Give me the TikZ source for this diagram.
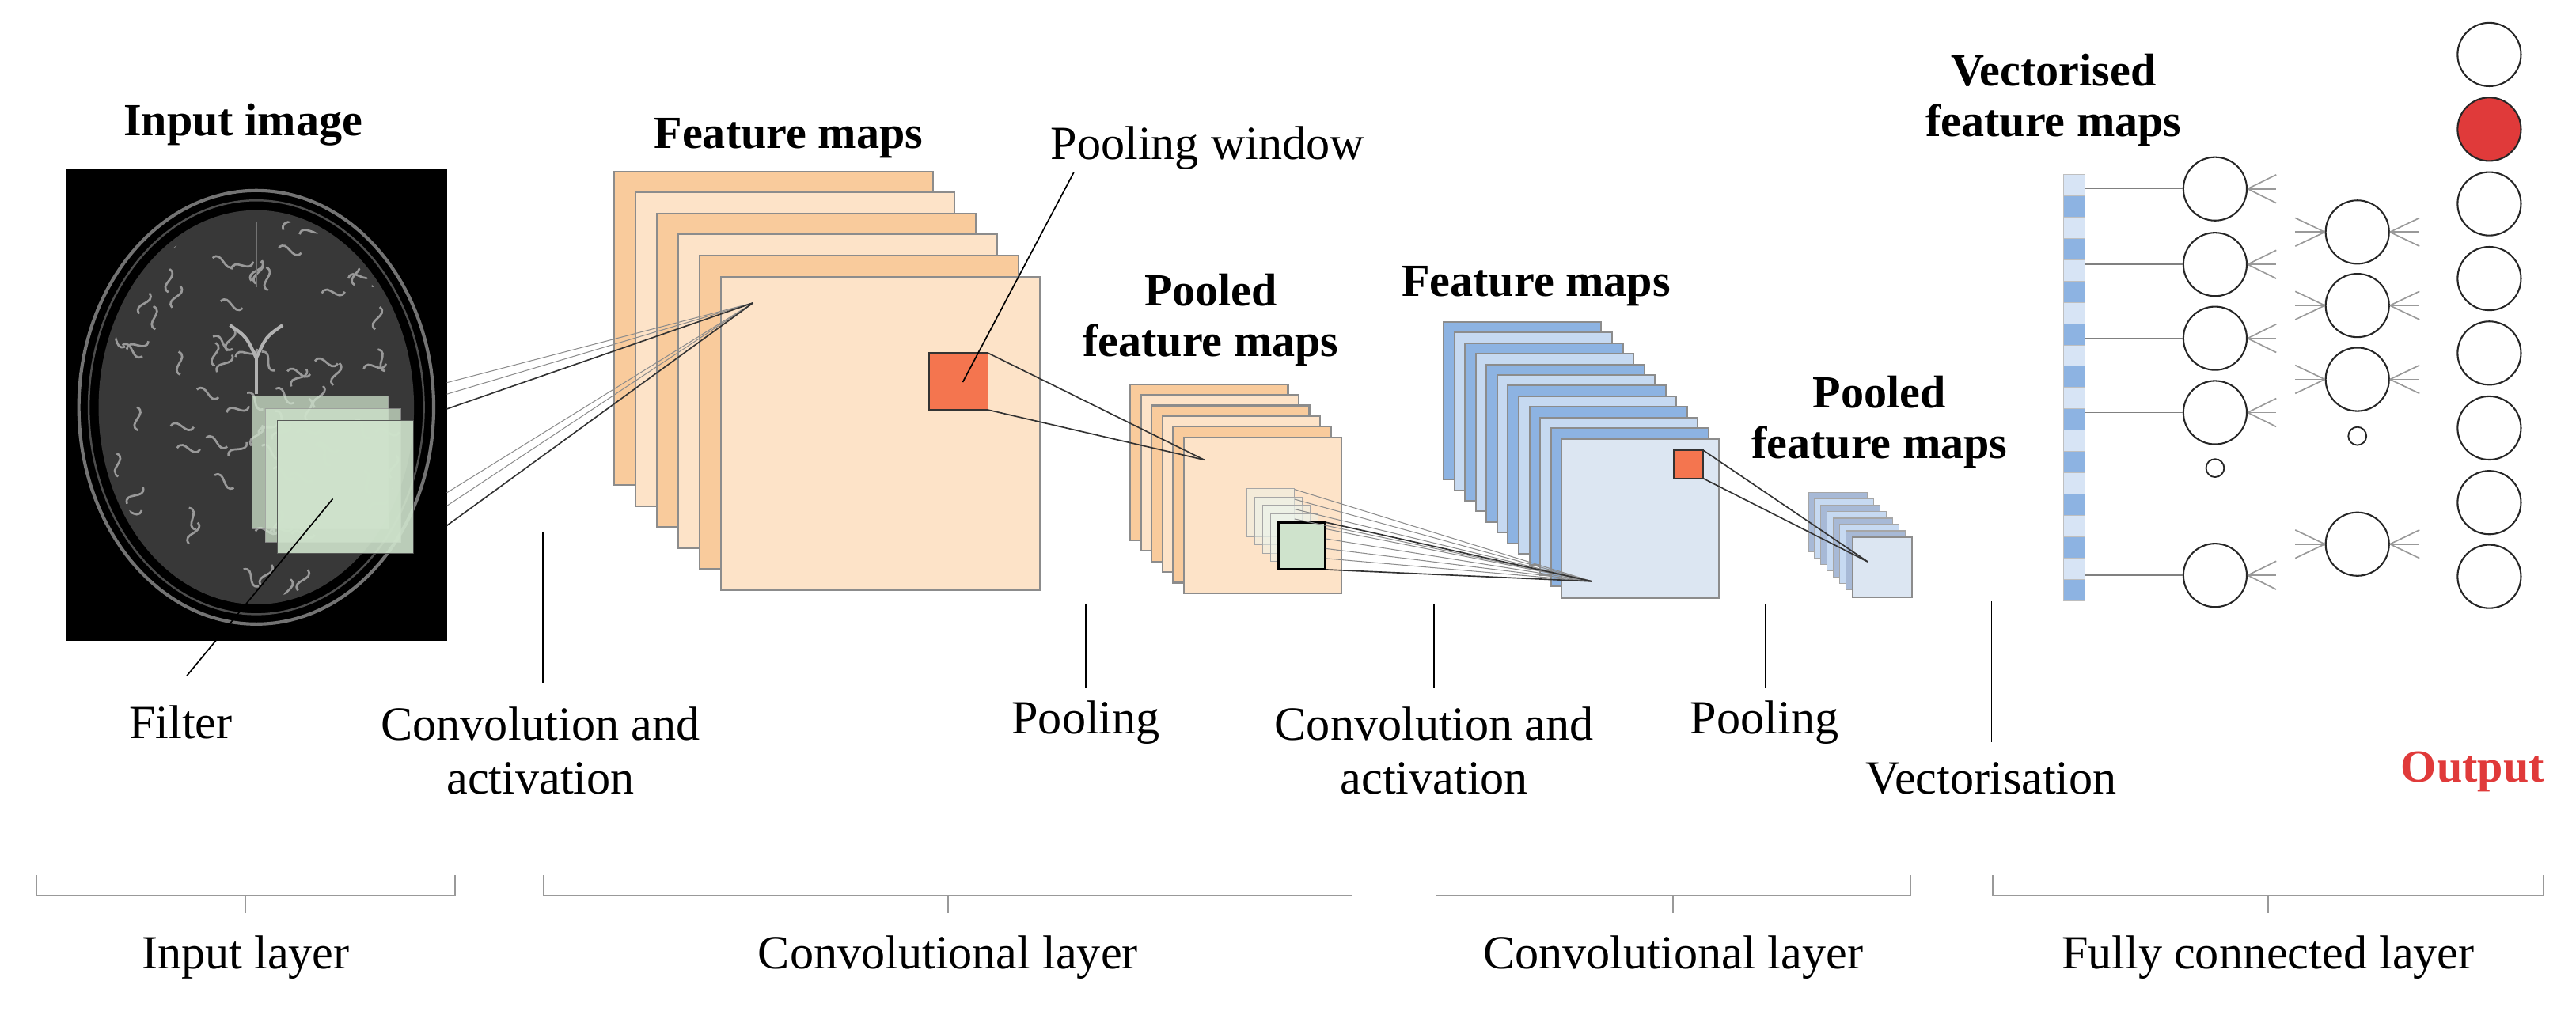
\documentclass[tikz,border=0pt]{standalone}
\usepackage{fontspec}
\setmainfont{Liberation Serif}
\begin{document}
\definecolor{odark}{HTML}{F9CB9C}
\definecolor{olight}{HTML}{FDE3C8}
\definecolor{bdark}{HTML}{8DB3E2}
\definecolor{blight}{HTML}{C6D9F1}
\definecolor{bfront}{HTML}{DCE6F2}
\definecolor{pwin}{HTML}{F4754F}
\definecolor{filt}{HTML}{CFE3CC}
\definecolor{outred}{HTML}{E03A3A}
\definecolor{gstack}{HTML}{A7B9D6}
\begin{tikzpicture}[x=1pt,y=-1pt,
  lbl/.style={font=\fontsize{29}{33}\selectfont, align=center},
  blbl/.style={font=\fontsize{28}{31}\selectfont\bfseries, align=center},
  fmap/.style={draw=black!45, line width=1pt},
  conn/.style={black!80, line width=0.8pt},
  thin/.style={black!45, line width=0.5pt},
  tick/.style={black, line width=0.8pt},
  brk/.style={black!40, line width=0.8pt},
  neuron/.style={circle, draw=black!85, line width=1pt, minimum size=38.6pt, inner sep=0pt},
  dotn/.style={circle, draw=black!85, line width=0.9pt, minimum size=11pt, inner sep=0pt},
  fan/.style={black!40, line width=0.8pt}]
\useasboundingbox (0,0) rectangle (1568,620);
% ---------------- input image ----------------
\node[blbl] (tin) at (148,76) {Input image};
\fill[black] (40,103) rectangle (272,390);
\draw[black!55, line width=2pt] (156,248) ellipse (108pt and 132pt);
\draw[black!70, line width=1.2pt] (156,248) ellipse (102pt and 126pt);
\fill[black!78] (156,248) ellipse (96pt and 120pt);
\begin{scope}
\clip (156,248) ellipse (92pt and 116pt);
\pgfmathsetseed{7}
\foreach \k in {1,...,90}{
  \pgfmathsetmacro{\px}{156+90*rand}
  \pgfmathsetmacro{\py}{248+115*rand}
  \pgfmathsetmacro{\ang}{180*rand}
  \draw[black!40, line width=1.3pt, rotate around={\ang:(\px,\py)}] (\px-7,\py) .. controls (\px-3,\py-7) and (\px+3,\py+7) .. (\px+7,\py);
}
\end{scope}
\draw[black!30, line width=2pt] (140,198) .. controls (150,205) .. (156,218) .. controls (162,205) .. (172,198);
\draw[black!30, line width=2pt] (156,218) -- (156,240);
\draw[black!55, line width=1pt] (156,135) -- (156,175);
\fill[filt, opacity=0.75, draw=black!40] (153.6,241) rectangle (236.4,322);
\fill[filt, opacity=0.75, draw=black!40] (161.4,249) rectangle (243.8,330);
\fill[filt, opacity=0.9, draw=black!70] (168.8,256) rectangle (251.6,337);
\coordinate (filtc) at (202.6,303.7);
\coordinate (filtl) at (113.7,411.5);
\draw[black, line width=0.8pt] (filtc) -- (filtl);
\node[lbl] (tfilter) at (110,440) {Filter};
% ---------------- feature maps (orange) ----------------
\foreach \i in {0,...,5}{
  \pgfmathsetmacro{\xo}{373.9+13*\i}
  \pgfmathsetmacro{\yo}{104.4+12.8*\i}
  \pgfmathparse{mod(\i,2)==0 ? 1 : 0}
  \ifnum\pgfmathresult=1
    \filldraw[fmap, fill=odark] (\xo,\yo) rectangle ++(194.2,191);
  \else
    \filldraw[fmap, fill=olight] (\xo,\yo) rectangle ++(194.2,191);
  \fi
}
\node[blbl] (tfm1) at (480,84) {Feature maps};
% connection lines to feature map (on top)
\coordinate (fmp) at (458.4,184.4);
\foreach \y in {233,240,300,308} \draw[thin] (272,\y) -- (fmp);
\draw[conn] (272,249) -- (fmp);
\draw[conn] (272,320) -- (fmp);
\filldraw[draw=black!80, fill=pwin, line width=0.8pt] (565.5,215) rectangle (601.5,249.6);
\node[lbl] (tpw) at (735,90) {Pooling window};
\draw[black, line width=0.8pt] (586,232.7) -- (653.6,105);
% ---------------- pooled feature maps (orange) ----------------
\coordinate (pfp) at (733,280);
\foreach \i in {0,...,5}{
  \pgfmathsetmacro{\xo}{688+6.5*\i}
  \pgfmathsetmacro{\yo}{234+6.45*\i}
  \pgfmathparse{mod(\i,2)==0 ? 1 : 0}
  \ifnum\pgfmathresult=1
    \filldraw[fmap, fill=odark] (\xo,\yo) rectangle ++(96,95);
  \else
    \filldraw[fmap, fill=olight] (\xo,\yo) rectangle ++(96,95);
  \fi
}
\draw[conn] (601.5,215) -- (pfp);
\draw[conn] (601.5,249.6) -- (pfp);
\node[blbl] (tpf1) at (737,195) {Pooled\\feature maps};
% ghost squares
\foreach \i in {0,...,4}{
  \pgfmathsetmacro{\xo}{759+4.8*\i}
  \pgfmathsetmacro{\yo}{297.6+5.1*\i}
  \filldraw[draw=black!35, fill=filt!40!white, fill opacity=0.5, line width=0.5pt] (\xo,\yo) rectangle ++(29,29);
}
\filldraw[draw=black, fill=filt, line width=1.4pt] (778,318) rectangle (806.8,346.8);
% ---------------- feature maps (blue) ----------------
\foreach \i in {0,...,10}{
  \pgfmathsetmacro{\xo}{878.7+6.53*\i}
  \pgfmathsetmacro{\yo}{196+6.47*\i}
  \pgfmathparse{mod(\i,2)==0 ? 1 : 0}
  \ifnum\pgfmathresult=1
    \filldraw[fmap, fill=bdark] (\xo,\yo) rectangle ++(96,96);
  \else
    \filldraw[fmap, fill=blight] (\xo,\yo) rectangle ++(96,96);
  \fi
}
\filldraw[fmap, fill=bfront] (950.6,267.2) rectangle (1046.4,364.4);
\coordinate (bfp) at (969,354);
\foreach \y in {298,304,310,316} \draw[thin] (788,\y) -- (bfp);
\foreach \y in {322,328,334,340} \draw[thin] (806.8,\y) -- (bfp);
\draw[conn] (806.8,318) -- (bfp);
\draw[conn] (806.8,346.8) -- (bfp);
\node[blbl] (tfm2) at (935,174) {Feature maps};
\filldraw[draw=black!80, fill=pwin, line width=0.8pt] (1018.8,274) rectangle (1036.5,291.2);
% ---------------- pooled (blue small) ----------------
\coordinate (spp) at (1136.8,342);
\foreach \i in {0,...,7}{
  \pgfmathsetmacro{\xo}{1100.7+3.83*\i}
  \pgfmathsetmacro{\yo}{300+3.87*\i}
  \pgfmathparse{mod(\i,2)==0 ? 1 : 0}
  \ifnum\pgfmathresult=1
    \filldraw[draw=black!35, fill=gstack, line width=0.6pt] (\xo,\yo) rectangle ++(36,36);
  \else
    \filldraw[draw=black!35, fill=blight, line width=0.6pt] (\xo,\yo) rectangle ++(36,36);
  \fi
}
\filldraw[fmap, fill=bfront] (1127.5,327.1) rectangle (1163.7,363.5);
\draw[conn] (1036.5,274) -- (spp);
\draw[conn] (1036.5,291.2) -- (spp);
\node[blbl] (tpf2) at (1144,257) {Pooled\\feature maps};
% ---------------- vectorised ----------------
\node[blbl] (tvec) at (1250,61) {Vectorised\\feature maps};
\foreach \i in {0,...,19}{
  \pgfmathsetmacro{\yo}{106.2+12.975*\i}
  \pgfmathparse{mod(\i,2)==0 ? 1 : 0}
  \ifnum\pgfmathresult=1
    \filldraw[draw=black!25, fill=blight!70!white, line width=0.4pt] (1256,\yo) rectangle ++(13.2,12.975);
  \else
    \filldraw[draw=black!25, fill=bdark, line width=0.4pt] (1256,\yo) rectangle ++(13.2,12.975);
  \fi
}
% layer 1
\foreach \n/\y in {a/115,b/161,c/206,d/251.2,e/350.3}{
  \node[neuron] (h1\n) at (1348.3,\y) {};
  \coordinate (v\n) at (1269.2,\y);
  \draw[black!50, line width=0.7pt] (v\n) -- (h1\n.west);
  \draw[fan] (h1\n.east) -- ++(17.4,-8.6);
  \draw[fan] (h1\n.east) -- ++(17.4,0);
  \draw[fan] (h1\n.east) -- ++(17.4,8.6);
}
\node[dotn] (h1s) at (1348.3,285) {};
% layer 2
\foreach \n/\y in {a/141.3,b/186,c/231,d/331.3}{
  \node[neuron] (h2\n) at (1434.9,\y) {};
  \draw[fan] (h2\n.west) -- ++(-18,-8.6);
  \draw[fan] (h2\n.west) -- ++(-18,0);
  \draw[fan] (h2\n.west) -- ++(-18,8.6);
  \draw[fan] (h2\n.east) -- ++(18,-8.6);
  \draw[fan] (h2\n.east) -- ++(18,0);
  \draw[fan] (h2\n.east) -- ++(18,8.6);
}
\node[dotn] (h2s) at (1434.9,265.5) {};
% output
\foreach \n/\y in {1/33.2,3/124.1,4/169.6,5/215,6/260.6,7/306,8/351}{
  \node[neuron] (o\n) at (1515.2,\y) {};
}
\node[neuron, fill=outred] (o2) at (1515.2,78.7) {};
% ---------------- step labels ----------------
\coordinate (l1a) at (330.5,323.6); \coordinate (l1b) at (330.5,415.6);
\draw[tick] (l1a) -- (l1b);
\node[lbl] (tconv1) at (329,457) {Convolution and\\activation};
\coordinate (l2a) at (661,367.5); \coordinate (l2b) at (661,419);
\draw[tick] (l2a) -- (l2b);
\node[lbl] (tpool1) at (661,440) {Pooling};
\coordinate (l3a) at (873,367.5); \coordinate (l3b) at (873,419);
\draw[tick] (l3a) -- (l3b);
\node[lbl] (tconv2) at (873,457) {Convolution and\\activation};
\coordinate (l4a) at (1074.6,367.5); \coordinate (l4b) at (1074.6,419);
\draw[tick] (l4a) -- (l4b);
\node[lbl] (tpool2) at (1074,440) {Pooling};
\coordinate (l5a) at (1212.3,366); \coordinate (l5b) at (1212.3,452);
\draw[tick] (l5a) -- (l5b);
\node[lbl] (tvecn) at (1212,474) {Vectorisation};
\node[blbl, text=outred] (tout) at (1505,470) {Output};
% ---------------- brackets ----------------
\foreach \a/\b/\t/\n in {22/277/Input layer/bi, 331/823/Convolutional layer/bc1, 874/1163/Convolutional layer/bc2, 1213/1548/Fully connected layer/bf}{
  \draw[brk] (\a,533) -- (\a,545) -- (\b,545) -- (\b,533);
  \draw[brk] ({(\a+\b)/2},545) -- ({(\a+\b)/2},556);
  \node[lbl] (\n) at ({(\a+\b)/2},583) {\t};
}
\end{tikzpicture}
\end{document}
